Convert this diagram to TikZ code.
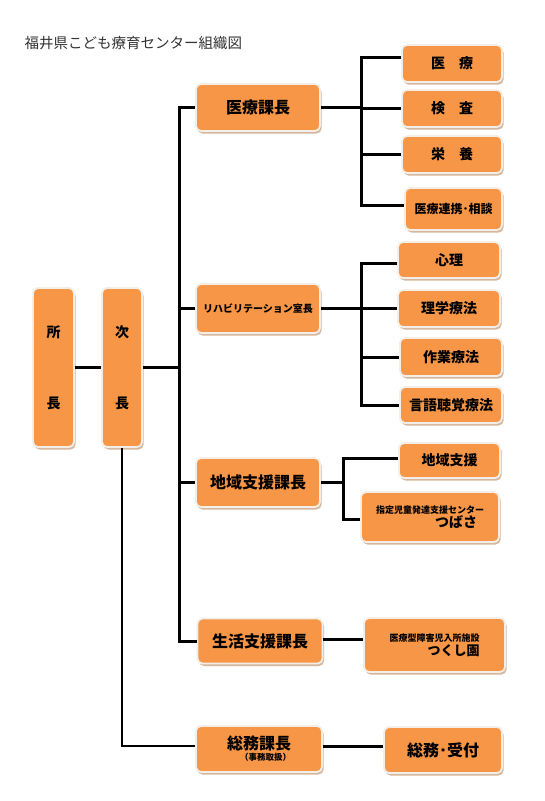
\documentclass[tikz,border=0pt]{standalone}
\usepackage{fontspec}
\setmainfont{Noto Sans CJK JP}
\usetikzlibrary{shadows}
\definecolor{boxorange}{HTML}{F79646}
\definecolor{rimcol}{HTML}{F4EEE8}
\definecolor{shadowcol}{HTML}{D4B79E}
\definecolor{titlecol}{HTML}{333333}
\tikzset{
  orgbox/.style={rectangle, rounded corners=5pt, fill=boxorange, draw=rimcol,
    line width=1.8pt, inner sep=0pt, text=black,
    drop shadow={shadow xshift=1.5pt, shadow yshift=-2.5pt, fill=shadowcol, opacity=1}},
  fsixteen/.style={font=\bfseries\fontsize{16}{19}\selectfont},
  ffourteen/.style={font=\bfseries\fontsize{14}{17}\selectfont},
  fsmall/.style={font=\bfseries\fontsize{12}{14}\selectfont},
  ften/.style={font=\bfseries\fontsize{10}{12}\selectfont},
  link/.style={line width=3pt, black},
  thinlink/.style={line width=2pt, black}
}
\begin{document}
\begin{tikzpicture}[x=1pt,y=-1pt]
\useasboundingbox[fill=white] (0,0) rectangle (545,801);

\node[anchor=west, text=titlecol, font=\fontsize{14.5}{17}\selectfont] (title) at (21,43) {福井県こども療育センター組織図};

% left column
\node[orgbox, minimum width=41pt, minimum height=159pt, ffourteen, align=center] (shocho) at (53.5,367.5) {所\\[54pt]長};
\node[orgbox, minimum width=40pt, minimum height=159pt, ffourteen, align=center] (jicho) at (122,367.5) {次\\[54pt]長};

% middle column
\node[orgbox, minimum width=124pt, minimum height=47pt, fsixteen] (ika) at (258,107.5) {医療課長};
\node[orgbox, minimum width=124pt, minimum height=49pt, ften] (reha) at (258,308.5) {リハビリテーション室長};
\node[orgbox, minimum width=124pt, minimum height=49pt, fsixteen] (chiiki) at (258,482.5) {地域支援課長};
\node[orgbox, minimum width=125pt, minimum height=45pt, fsixteen] (seikatsu) at (260,641) {生活支援課長};
\node[orgbox, minimum width=126pt, minimum height=46pt, align=right] (somu) at (259,749)
  {{\bfseries\fontsize{16}{17}\selectfont 総務課長}\\[-1pt]{\bfseries\fontsize{8.5}{9}\selectfont （事務取扱）}};

% right column: iryo group
\node[orgbox, minimum width=100pt, minimum height=37pt, ffourteen] (iryo) at (452,63.5) {医　療};
\node[orgbox, minimum width=100pt, minimum height=37pt, ffourteen] (kensa) at (452,108.5) {検　査};
\node[orgbox, minimum width=100pt, minimum height=37pt, ffourteen] (eiyo) at (452,154.5) {栄　養};
\node[orgbox, minimum width=97pt, minimum height=42pt, fsmall] (renkei) at (453.5,209) {医療連携･相談};

% reha group
\node[orgbox, minimum width=102pt, minimum height=36pt, ffourteen] (shinri) at (449,260) {心理};
\node[orgbox, minimum width=102pt, minimum height=37pt, ffourteen] (rigaku) at (449,308.5) {理学療法};
\node[orgbox, minimum width=102pt, minimum height=38pt, ffourteen] (sagyo) at (451,357) {作業療法};
\node[orgbox, minimum width=102pt, minimum height=36pt, ffourteen] (gengo) at (451,405) {言語聴覚療法};

% chiiki group
\node[orgbox, minimum width=101pt, minimum height=35pt, ffourteen] (chiikishien) at (449.5,460.5) {地域支援};
\node[orgbox, minimum width=138pt, minimum height=50pt, align=right] (tsubasa) at (430,517)
  {{\bfseries\fontsize{9}{10}\selectfont 指定児童発達支援センター}\\[0pt]{\bfseries\fontsize{14}{15}\selectfont つばさ}\hspace*{7pt}};

% seikatsu group
\node[orgbox, minimum width=141pt, minimum height=54pt, align=right] (tsukushi) at (434.5,645)
  {{\bfseries\fontsize{9}{10}\selectfont 医療型障害児入所施設}\\[2pt]{\bfseries\fontsize{13}{14}\selectfont つくし園}};

% somu group
\node[orgbox, minimum width=118pt, minimum height=46pt, fsixteen] (uketsuke) at (443,750) {総務･受付};

% junction coordinates
\coordinate (tb) at (179,641);
\coordinate (c1) at (361,205);
\coordinate (c2) at (361,405);
\coordinate (c3) at (343,519);

% connectors
\draw[link] (shocho.east) -- (jicho.west);
\draw[link] (jicho.east) -- (jicho.east -| tb);
\draw[link] (ika.west) -| (tb) -- (seikatsu.west);
\draw[link] (reha.west) -- (reha.west -| tb);
\draw[link] (chiiki.west) -- (chiiki.west -| tb);
\draw[thinlink] (jicho.south) |- ([yshift=3pt]somu.west);

\draw[link] ([yshift=6.5pt]iryo.west) -| (c1) -- ([yshift=4pt]renkei.west);
\draw[link] (ika.east) -- (ika.east -| c1);
\draw[link] (kensa.west) -- (kensa.west -| c1);
\draw[link] (eiyo.west) -- (eiyo.west -| c1);

\draw[link] ([yshift=-3pt]shinri.west) -| (c2) -- (gengo.west);
\draw[link] (reha.east) -- (reha.east -| rigaku.west);
\draw[link] (sagyo.west) -- (sagyo.west -| c2);

\draw[link] ([yshift=2.5pt]chiikishien.west) -| (c3) -- ([yshift=-2pt]tsubasa.west);
\draw[link] (chiiki.east) -- (chiiki.east -| c3);

\draw[link] ([yshift=2pt]seikatsu.east) -- ([yshift=2pt]seikatsu.east -| tsukushi.west);
\draw[link] ([yshift=3pt]somu.east) -- ([yshift=3pt]somu.east -| uketsuke.west);
\end{tikzpicture}
\end{document}
